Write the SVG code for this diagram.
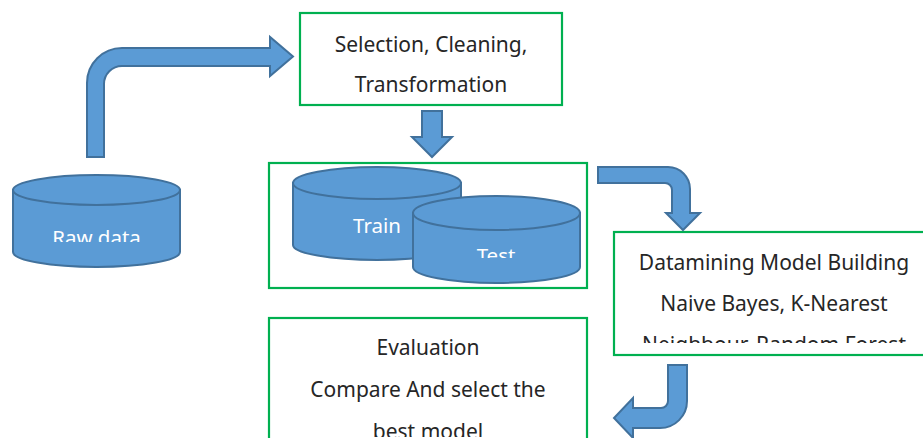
<svg xmlns="http://www.w3.org/2000/svg" width="923" height="438" viewBox="0 0 923 438">
<style>
.box{fill:#fff;stroke:#00B050;stroke-width:2.2}
.cyl{fill:#5B9BD5;stroke:#41719C;stroke-width:2}
.arr{fill:#5B9BD5;stroke:#41719C;stroke-width:2;stroke-linejoin:miter}
.t{font-family:"Noto Sans","Open Sans",sans-serif;font-size:21px;fill:#262626;text-anchor:middle}
.w{font-family:"Noto Sans","Open Sans",sans-serif;font-size:20.5px;fill:#fff;text-anchor:middle}
</style>
<defs>
<clipPath id="cRaw"><rect x="13" y="200" width="167" height="42"/></clipPath>
<clipPath id="cTest"><rect x="413" y="230" width="167" height="28"/></clipPath>
<clipPath id="cDm"><rect x="614" y="233" width="320" height="110"/></clipPath>
<clipPath id="cEv"><rect x="269" y="318" width="318" height="119"/></clipPath>
</defs>
<rect width="923" height="438" fill="#fff"/>

<g id="raw-data">
<path class="cyl" d="M13,190 L13,252 A83.5,15 0 0 0 180,252 L180,190 Z"/>
<ellipse class="cyl" cx="96.5" cy="190" rx="83.5" ry="15"/>
<text class="w" x="96.5" y="245" clip-path="url(#cRaw)">Raw data</text>
</g>

<g id="selection">
<rect class="box" x="300" y="13" width="262" height="92"/>
<text class="t" x="431" y="52">Selection, Cleaning,</text>
<text class="t" x="431" y="92">Transformation</text>
</g>

<g id="train-test">
<rect class="box" x="269" y="163" width="318" height="125"/>
<g id="train">
<path class="cyl" d="M293,183 L293,245 A84,15 0 0 0 461,245 L461,183 Z"/>
<ellipse class="cyl" cx="377" cy="183" rx="84" ry="16"/>
<text class="w" x="377" y="233">Train</text>
</g>
<g id="test">
<path class="cyl" d="M413,213 L413,267 A83.5,16 0 0 0 580,267 L580,213 Z"/>
<ellipse class="cyl" cx="496.5" cy="213" rx="83.5" ry="17"/>
<text class="w" x="496" y="263" clip-path="url(#cTest)">Test</text>
</g>
</g>

<g id="datamining">
<rect class="box" x="614" y="232" width="320" height="123"/>
<g clip-path="url(#cDm)">
<text class="t" x="774" y="270">Datamining Model Building</text>
<text class="t" x="774" y="311">Naive Bayes, K-Nearest</text>
<text class="t" x="774" y="352">Neighbour, Random Forest</text>
</g>
</g>

<g id="evaluation">
<rect class="box" x="269" y="318" width="318" height="140"/>
<g clip-path="url(#cEv)">
<text class="t" x="428" y="355">Evaluation</text>
<text class="t" x="428" y="397">Compare And select the</text>
<text class="t" x="428" y="439">best model</text>
</g>
</g>

<g id="connectors">
<path class="arr" d="M87,157 L87,83 A35,35 0 0 1 122,48 L270,48 L270,37 L293,56.5 L270,76 L270,66 L122,66 A18,18 0 0 0 104,84 L104,157 Z"/>
<path class="arr" d="M422,111 L442,111 L442,137 L452,137 L432,157 L412,137 L422,137 Z"/>
<path class="arr" d="M598,167 L668,167 A22,22 0 0 1 690,189 L690,213 L700,213 L683,230 L666,213 L672,213 L672,190 A7,7 0 0 0 665,183 L598,183 Z"/>
<path class="arr" d="M668,365 L687,365 L687,401 A27,27 0 0 1 660,428 L633,428 L633,438 L614,418 L633,398 L633,408 L661,408 A7,7 0 0 0 668,401 Z"/>
</g>
</svg>
